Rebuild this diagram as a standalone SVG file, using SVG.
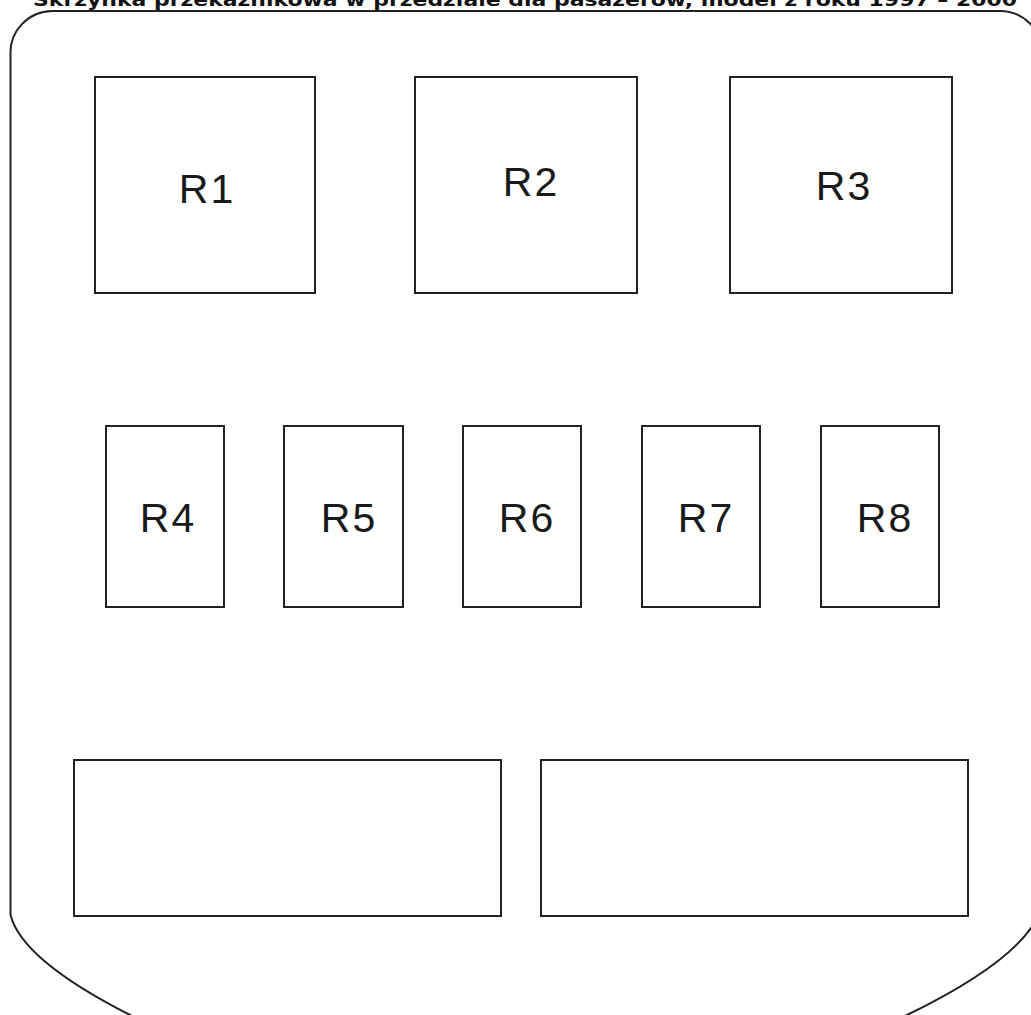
<svg xmlns="http://www.w3.org/2000/svg" width="1031" height="1015" viewBox="0 0 1031 1015">
<style>
.box{fill:#fff;stroke:#222;stroke-width:2}
.lbl{font-family:"Liberation Sans",Arial,sans-serif;font-size:41px;fill:#1a1a1a;text-anchor:middle;letter-spacing:2px}
.title{font-family:"DejaVu Sans",Verdana,sans-serif;font-weight:bold;font-size:18px;fill:#111}
</style>
<rect width="1031" height="1015" fill="#fff"/>
<text class="title" x="33" y="6" textLength="984" lengthAdjust="spacingAndGlyphs">Skrzynka przekaźnikowa w przedziale dla pasażerów, model z roku 1997 – 2000</text>
<g id="outline">
<path d="M10.5,915 L10.5,55 A42,42 0 0 1 52,11 L1000,11 A42,42 0 0 1 1042,53 L1042,905 Q1030,955 907,1015 L880,1030 M10.5,915 Q22,960 130,1015 L160,1030" fill="none" stroke="#222" stroke-width="2"/>
</g>
<g id="R1"><rect class="box" x="95" y="77" width="220" height="216"/><text class="lbl" x="207" y="203">R1</text></g>
<g id="R2"><rect class="box" x="415" y="77" width="222" height="216"/><text class="lbl" x="531" y="196">R2</text></g>
<g id="R3"><rect class="box" x="730" y="77" width="222" height="216"/><text class="lbl" x="844" y="200">R3</text></g>
<g id="R4"><rect class="box" x="106" y="426" width="118" height="181"/><text class="lbl" x="168" y="532">R4</text></g>
<g id="R5"><rect class="box" x="284" y="426" width="119" height="181"/><text class="lbl" x="349" y="532">R5</text></g>
<g id="R6"><rect class="box" x="463" y="426" width="118" height="181"/><text class="lbl" x="527" y="532">R6</text></g>
<g id="R7"><rect class="box" x="642" y="426" width="118" height="181"/><text class="lbl" x="706" y="532">R7</text></g>
<g id="R8"><rect class="box" x="821" y="426" width="118" height="181"/><text class="lbl" x="885" y="532">R8</text></g>
<g id="B1"><rect class="box" x="74" y="760" width="427" height="156"/></g>
<g id="B2"><rect class="box" x="541" y="760" width="427" height="156"/></g>
<g id="connectors"></g>
</svg>
